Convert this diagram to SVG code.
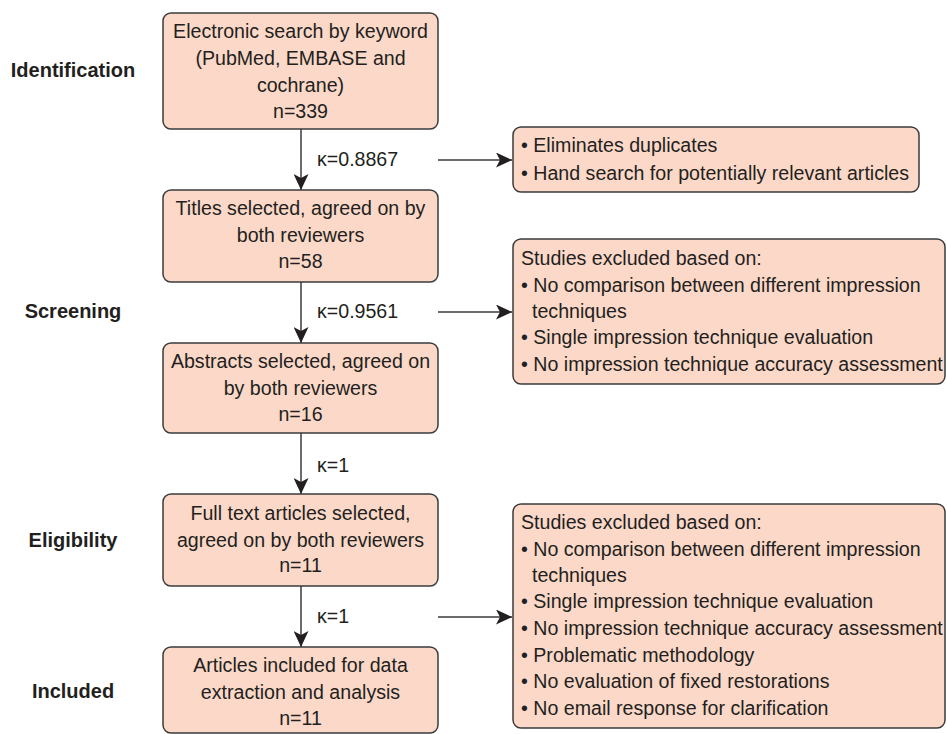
<svg xmlns="http://www.w3.org/2000/svg" width="947" height="734" viewBox="0 0 947 734">
<defs>
<style>
.box{fill:#fbd8c8;stroke:#3b3b3b;stroke-width:1.5}
.t{font-family:"Liberation Sans",Arial,sans-serif;font-size:19.6px;fill:#231f20}
.c{text-anchor:middle}
.lab{font-family:"Liberation Sans",Arial,sans-serif;font-size:20px;font-weight:bold;fill:#231f20;text-anchor:middle}
.ln{stroke:#3b3b3b;stroke-width:1.5;fill:none}
</style>
<marker id="ah" viewBox="0 0 16 15" refX="16" refY="7.5" markerWidth="16" markerHeight="15" markerUnits="userSpaceOnUse" orient="auto">
<path d="M0,0 L16,7.5 L0,15 L4,7.5 Z" fill="#231f20"/>
</marker>
</defs>
<rect width="947" height="734" fill="#ffffff"/>
<g id="stage-labels">
<text class="lab" x="73" y="77">Identification</text>
<text class="lab" x="73" y="318">Screening</text>
<text class="lab" x="73" y="547">Eligibility</text>
<text class="lab" x="73" y="698">Included</text>
</g>
<g id="connectors">
<line class="ln" x1="301" y1="129" x2="301" y2="190" marker-end="url(#ah)"/>
<line class="ln" x1="301" y1="282" x2="301" y2="343" marker-end="url(#ah)"/>
<line class="ln" x1="301" y1="433" x2="301" y2="494" marker-end="url(#ah)"/>
<line class="ln" x1="301" y1="586" x2="301" y2="647" marker-end="url(#ah)"/>
<line class="ln" x1="438" y1="160" x2="512" y2="160" marker-end="url(#ah)"/>
<line class="ln" x1="438" y1="312" x2="512" y2="312" marker-end="url(#ah)"/>
<line class="ln" x1="438" y1="617" x2="512" y2="617" marker-end="url(#ah)"/>
<text class="t" x="317" y="166">κ=0.8867</text>
<text class="t" x="317" y="318">κ=0.9561</text>
<text class="t" x="317" y="472">κ=1</text>
<text class="t" x="317" y="623">κ=1</text>
</g>
<g id="n1">
<rect class="box" x="163" y="13" width="275" height="116" rx="8"/>
<text class="t c" x="300.5" y="38">Electronic search by keyword</text>
<text class="t c" x="300.5" y="65">(PubMed, EMBASE and</text>
<text class="t c" x="300.5" y="92">cochrane)</text>
<text class="t c" x="300.5" y="118">n=339</text>
</g>
<g id="n2">
<rect class="box" x="163" y="190" width="275" height="92" rx="8"/>
<text class="t c" x="300.5" y="215">Titles selected, agreed on by</text>
<text class="t c" x="300.5" y="242">both reviewers</text>
<text class="t c" x="300.5" y="268">n=58</text>
</g>
<g id="n3">
<rect class="box" x="163" y="343" width="275" height="90" rx="8"/>
<text class="t c" x="300.5" y="368">Abstracts selected, agreed on</text>
<text class="t c" x="300.5" y="395">by both reviewers</text>
<text class="t c" x="300.5" y="421">n=16</text>
</g>
<g id="n4">
<rect class="box" x="163" y="494" width="275" height="92" rx="8"/>
<text class="t c" x="300.5" y="520">Full text articles selected,</text>
<text class="t c" x="300.5" y="547">agreed on by both reviewers</text>
<text class="t c" x="300.5" y="572">n=11</text>
</g>
<g id="n5">
<rect class="box" x="163" y="647" width="275" height="86" rx="8"/>
<text class="t c" x="300.5" y="672">Articles included for data</text>
<text class="t c" x="300.5" y="699">extraction and analysis</text>
<text class="t c" x="300.5" y="725">n=11</text>
</g>
<g id="s1">
<rect class="box" x="513" y="127" width="406" height="65" rx="8"/>
<text class="t" x="521" y="152">• Eliminates duplicates</text>
<text class="t" x="521" y="180">• Hand search for potentially relevant articles</text>
</g>
<g id="s2">
<rect class="box" x="513" y="239" width="432" height="145" rx="8"/>
<text class="t" x="521" y="265">Studies excluded based on:</text>
<text class="t" x="521" y="292">• No comparison between different impression</text>
<text class="t" x="532" y="318">techniques</text>
<text class="t" x="521" y="344">• Single impression technique evaluation</text>
<text class="t" x="521" y="371">• No impression technique accuracy assessment</text>
</g>
<g id="s3">
<rect class="box" x="513" y="504" width="432" height="224" rx="8"/>
<text class="t" x="521" y="529">Studies excluded based on:</text>
<text class="t" x="521" y="556">• No comparison between different impression</text>
<text class="t" x="532" y="582">techniques</text>
<text class="t" x="521" y="608">• Single impression technique evaluation</text>
<text class="t" x="521" y="635">• No impression technique accuracy assessment</text>
<text class="t" x="521" y="662">• Problematic methodology</text>
<text class="t" x="521" y="688">• No evaluation of fixed restorations</text>
<text class="t" x="521" y="715">• No email response for clarification</text>
</g>
</svg>
